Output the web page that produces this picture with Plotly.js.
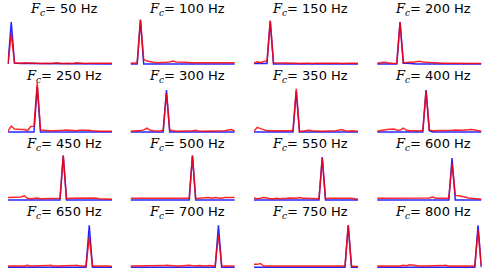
<!DOCTYPE html>
<html>
<head>
<meta charset="utf-8">
<script src="https://cdn.plot.ly/plotly-3.0.1.min.js"></script>
<style>html,body{margin:0;padding:0;background:#fff;}#chart{width:496px;height:277px;}</style>
</head>
<body>
<div id="chart"></div>
<script>
// frequency bins (Hz)
const freqs = [25,50,75,100,125,150,175,200,225,250,275,
               300,325,350,375,400,425,450,475,500,525,550,
               575,600,625,650,675,700,725,750,775,800,825];
// carrier frequencies (subplot titles)
const carriers = [50,100,150,200,250,300,350,400,450,500,550,600,650,700,750,800];

const blue50 = [0.00,1.00,0.02,0.01,0.01,0.01,0.01,0.01,0.01,0.01,0.01, 0.01,0.01,0,0,0,0,0,0,0,0,0, 0,0,0,0,0,0,0,0,0,0,0];
const red50  = [0.00,0.73,0.03,0.02,0.02,0.03,0.03,0.02,0.02,0.02,0.01, 0.02,0.02,0.01,0.02,0.03,0.02,0.01,0.02,0.02,0.01,0.03, 0.02,0.02,0.01,0.02,0.02,0.01,0.02,0.02,0.01,0.02,0.02];
const blue100 = [0,0,0,1.05,0,0,0,0,0,0,0, 0,0,0,0,0,0,0,0,0,0,0, 0,0,0,0,0,0,0,0,0,0,0];
const red100  = [0.02,0.02,0.03,1.05,0.11,0.07,0.05,0.04,0.03,0.03,0.03, 0.04,0.05,0.07,0.05,0.05,0.04,0.04,0.03,0.03,0.03,0.02, 0.03,0.03,0.02,0.03,0.03,0.02,0.02,0.03,0.02,0.02,0.03];
const blue150 = [0.01,0.01,0.01,0.01,0.01,1.03,0,0,0,0,0, 0,0,0,0,0,0,0,0,0,0,0, 0,0,0,0,0,0,0,0,0,0,0];
const red150  = [0.02,0.05,0.03,0.06,0.07,1.03,0.03,0.03,0.03,0.02,0.02, 0.03,0.02,0.02,0.01,0.02,0.02,0.02,0.01,0.02,0.02,0.02, 0.02,0.03,0.02,0.02,0.02,0.01,0.02,0.02,0.02,0.02,0.02];
const blue200 = [0,0,0,0,0,0,0,1.00,0.02,0.02,0.01, 0,0,0,0,0,0,0,0,0,0,0, 0,0,0,0,0,0,0,0,0,0,0];
const red200  = [0.02,0.03,0.04,0.03,0.02,0.01,0.02,1.00,0.03,0.04,0.04, 0.04,0.05,0.065,0.05,0.04,0.03,0.03,0.03,0.02,0.02,0.02, 0.02,0.02,0.02,0.02,0.02,0.01,0.01,0.01,0.01,0.01,0.01];
const blue250 = [0,0,0,0,0,0,0,0,0,1.08,0, 0,0,0,0,0,0,0,0,0,0,0, 0,0,0,0,0,0,0,0,0,0,0];
const red250  = [0.02,0.14,0.07,0.06,0.06,0.06,0.03,0.13,0.14,1.17,0.05, 0.04,0.03,0.03,0.03,0.03,0.04,0.04,0.05,0.04,0.03,0.03, 0.04,0.04,0.05,0.04,0.03,0.02,0.02,0.02,0.02,0.02,0.02];
const blue300 = [0,0,0,0,0,0,0,0,0,0,0, 1.00,0,0,0,0,0,0,0,0,0,0, 0,0,0,0,0,0,0,0,0,0,0];
const red300  = [0.02,0.03,0.03,0.03,0.05,0.09,0.04,0.03,0.02,0.02,0.05, 0.92,0.05,0.03,0.02,0.02,0.02,0.02,0.02,0.03,0.04,0.02, 0.02,0.02,0.02,0.02,0.02,0.02,0.02,0.03,0.05,0.06,0.02];
const blue350 = [0,0,0,0,0,0,0,0,0,0,0, 0,0,0.97,0,0,0,0,0,0,0,0, 0,0,0,0,0,0,0,0,0,0,0];
const red350  = [0.02,0.11,0.08,0.05,0.03,0.03,0.03,0.02,0.02,0.02,0.02, 0.03,0.04,1.03,0.01,0.02,0.03,0.04,0.03,0.02,0.02,0.02, 0.02,0.02,0.03,0.03,0.04,0.06,0.03,0.02,0.03,0.03,0.02];
const blue400 = [0,0,0,0,0,0,0,0,0,0,0, 0,0,0,0,1.00,0.03,0,0,0,0,0, 0,0,0,0,0,0,0,0,0,0,0];
const red400  = [0.02,0.04,0.05,0.06,0.07,0.07,0.05,0.04,0.09,0.04,0.03, 0.03,0.03,0.03,0.03,0.98,0.05,0.03,0.03,0.03,0.04,0.04, 0.03,0.04,0.05,0.04,0.04,0.05,0.06,0.06,0.05,0.03,0.02];
const blue450 = [0,0,0,0,0,0,0,0,0,0,0, 0,0,0,0,0,0,1.06,0,0,0,0, 0,0,0,0,0,0,0,0,0,0,0];
const red450  = [0.06,0.06,0.06,0.06,0.07,0.10,0.04,0.03,0.04,0.05,0.03, 0.03,0.03,0.03,0.03,0.03,0.04,1.06,0.03,0.04,0.04,0.04, 0.04,0.04,0.04,0.04,0.04,0.05,0.03,0.03,0.02,0.02,0.02];
const blue500 = [0,0,0,0,0,0,0,0,0,0,0, 0,0,0,0,0,0,0,0,1.06,0,0, 0,0,0,0,0,0,0,0,0,0,0];
const red500  = [0.04,0.04,0.05,0.04,0.04,0.05,0.04,0.04,0.05,0.04,0.04, 0.04,0.05,0.04,0.04,0.05,0.04,0.04,0.04,1.06,0.03,0.04, 0.05,0.05,0.06,0.04,0.06,0.05,0.04,0.06,0.06,0.07,0.06];
const blue550 = [0,0,0,0,0,0,0,0,0,0,0, 0,0,0,0,0,0,0,0,0,0,1.02, 0,0,0,0,0,0,0,0,0,0,0];
const red550  = [0.05,0.03,0.04,0.06,0.05,0.03,0.03,0.04,0.03,0.03,0.04, 0.05,0.04,0.04,0.06,0.04,0.04,0.04,0.04,0.04,0.03,1.00, 0.03,0.04,0.04,0.04,0.05,0.04,0.05,0.04,0.04,0.03,0.02];
const blue600 = [0,0,0,0,0,0,0,0,0,0,0, 0,0,0,0,0,0,0,0,0,0,0, 0,1.00,0,0,0,0,0,0,0,0,0];
const red600  = [0.04,0.04,0.04,0.04,0.04,0.05,0.04,0.04,0.04,0.04,0.04, 0.05,0.04,0.04,0.04,0.04,0.05,0.07,0.04,0.04,0.04,0.04, 0.04,0.87,0.11,0.10,0.09,0.07,0.05,0.04,0.03,0.02,0.02];
const blue650 = [0,0,0,0,0,0,0,0,0,0,0, 0,0,0,0,0,0,0,0,0,0,0, 0,0,0,1.00,0,0,0,0,0,0,0];
const red650  = [0.03,0.03,0.04,0.03,0.03,0.03,0.05,0.03,0.03,0.03,0.03, 0.03,0.04,0.05,0.03,0.03,0.03,0.03,0.03,0.04,0.04,0.05, 0.03,0.03,0.03,0.72,0.03,0.03,0.03,0.04,0.03,0.03,0.02];
const blue700 = [0,0,0,0,0,0,0,0,0,0,0, 0,0,0,0,0,0,0,0,0,0,0, 0,0,0,0,0,1.00,0,0,0,0,0];
const red700  = [0.03,0.03,0.03,0.03,0.03,0.04,0.03,0.03,0.04,0.03,0.04, 0.05,0.04,0.03,0.03,0.03,0.04,0.04,0.05,0.04,0.03,0.04, 0.03,0.03,0.04,0.03,0.03,0.78,0.04,0.03,0.03,0.03,0.03];
const blue750 = [0,0,0,0,0,0,0,0,0,0,0, 0,0,0,0,0,0,0,0,0,0,0, 0,0,0,0,0,0,0,1.00,0,0,0];
const red750  = [0.07,0.07,0.09,0.03,0.03,0.03,0.03,0.03,0.03,0.03,0.03, 0.03,0.03,0.04,0.03,0.03,0.03,0.03,0.03,0.03,0.04,0.03, 0.03,0.03,0.03,0.03,0.03,0.03,0.03,1.00,0.03,0.02,0.02];
const blue800 = [0,0,0,0,0,0,0,0,0,0,0, 0,0,0,0,0,0,0,0,0,0,0, 0,0,0,0,0,0,0,0,0,1.00,0];
const red800  = [0.03,0.03,0.03,0.03,0.03,0.03,0.03,0.03,0.05,0.04,0.06, 0.05,0.03,0.03,0.03,0.03,0.03,0.03,0.03,0.03,0.04,0.05, 0.03,0.03,0.03,0.03,0.03,0.03,0.03,0.03,0.03,0.88,0.03];

const blueSeries = [blue50,blue100,blue150,blue200,blue250,blue300,blue350,blue400,
                    blue450,blue500,blue550,blue600,blue650,blue700,blue750,blue800];
const redSeries  = [red50,red100,red150,red200,red250,red300,red350,red400,
                    red450,red500,red550,red600,red650,red700,red750,red800];

// layout geometry (pixels)
const W = 496, H = 277;
const colLeft = [8, 130.7, 254, 377.3];
const plotW = 104;
const baseline = [64, 132, 200, 267.3];
const pxPerUnit = 42;
const yLo = -0.05, yHi = 1.2;
const titleY = [9.5, 76.8, 144.2, 212.5];

const data = [];
const layout = {
  width: W, height: H,
  margin: {l:0, r:0, t:0, b:0, pad:0},
  paper_bgcolor: '#ffffff', plot_bgcolor: 'rgba(0,0,0,0)',
  showlegend: false,
  font: {family: 'DejaVu Sans', size: 13, color: '#000'},
  annotations: []
};

const xPad = 3; // Hz padding so edge strokes are not clipped
for (let k = 0; k < 16; k++) {
  const r = Math.floor(k / 4), c = k % 4;
  const ax = k === 0 ? '' : String(k + 1);
  const x0 = colLeft[c] - xPad * plotW / 800, x1 = colLeft[c] + plotW + xPad * plotW / 800;
  const yBot = baseline[r] - yLo * pxPerUnit;
  const yTop = baseline[r] - yHi * pxPerUnit;
  layout['xaxis' + ax] = {
    domain: [x0 / W, x1 / W], range: [25 - xPad, 825 + xPad],
    visible: false, showgrid: false, zeroline: false, fixedrange: true, anchor: 'y' + ax
  };
  layout['yaxis' + ax] = {
    domain: [1 - yBot / H, 1 - yTop / H], range: [yLo, yHi],
    visible: false, showgrid: false, zeroline: false, fixedrange: true, anchor: 'x' + ax
  };
  data.push({
    type: 'scatter', mode: 'lines', x: freqs, y: blueSeries[k],
    xaxis: 'x' + ax, yaxis: 'y' + ax,
    line: {color: 'rgba(0,0,255,0.85)', width: 1.5}, hoverinfo: 'skip'
  });
  data.push({
    type: 'scatter', mode: 'lines', x: freqs, y: redSeries[k],
    xaxis: 'x' + ax, yaxis: 'y' + ax,
    line: {color: 'rgba(255,0,0,0.85)', width: 1.5}, hoverinfo: 'skip'
  });
  layout.annotations.push({
    xref: 'paper', yref: 'paper',
    x: (colLeft[c] + plotW / 2 + 4) / W, y: 1 - titleY[r] / H,
    xanchor: 'center', yanchor: 'middle', showarrow: false,
    text: '<span style="font-family:\'DejaVu Serif\';font-style:italic;font-size:13px">F</span><sub><span style="font-family:\'DejaVu Serif\';font-style:italic;font-size:9px">c</span></sub>= ' + carriers[k] + ' Hz',
    font: {family: 'DejaVu Sans', size: 13, color: '#000'}
  });
}

Plotly.newPlot('chart', data, layout, {displayModeBar: false, staticPlot: true});
</script>
</body>
</html>
